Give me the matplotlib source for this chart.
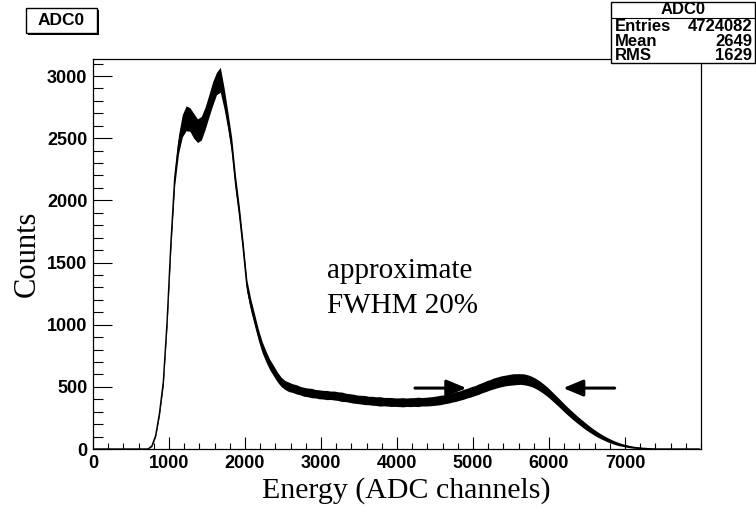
import numpy as np
import matplotlib
matplotlib.use("Agg")
import matplotlib.pyplot as plt
from matplotlib.patches import Rectangle
from matplotlib.lines import Line2D

# ------------------ histogram ADC0 (50-channel samples) ------------------ #
BIN_W = 50
counts = [
    0, 0, 0, 0, 0, 0, 0, 0, 0, 0,
    0, 0, 0, 0, 0, 25, 110, 290, 540, 1030,
    1660, 2180, 2450, 2600, 2660, 2650, 2600, 2560, 2580, 2660,
    2760, 2860, 2940, 2970, 2820, 2640, 2440, 2140, 1900, 1620,
    1310, 1160, 1040, 920, 820, 745, 680, 630, 580, 540,
    515, 500, 490, 480, 470, 460, 455, 450, 445, 440,
    437, 434, 432, 430, 425, 420, 415, 410, 405, 400,
    397, 394, 390, 388, 385, 383, 381, 380, 378, 377,
    376, 376, 376, 377, 378, 379, 380, 381, 383, 386,
    390, 395, 400, 407, 414, 422, 430, 440, 450, 460,
    470, 482, 494, 506, 517, 528, 537, 545, 551, 556,
    560, 562, 563, 560, 553, 542, 527, 508, 486, 462,
    434, 405, 376, 346, 316, 288, 261, 235, 210, 186,
    163, 142, 122, 104, 88, 73, 60, 48, 38, 30,
    23, 17, 12, 9, 6, 4, 2, 1, 0, 0,
    0, 0, 0, 0, 0, 0, 0, 0, 0, 0,
]
# half height of the statistical scatter band around each sample
scatter = [
    0, 0, 0, 0, 0, 0, 0, 0, 0, 0,
    0, 0, 0, 0, 0, 5, 10, 20, 30, 40,
    50, 60, 75, 90, 100, 95, 100, 95, 95, 90,
    90, 95, 90, 100, 85, 70, 65, 60, 55, 50,
    50, 50, 48, 46, 45, 44, 42, 42, 40, 38,
    36, 38, 35, 37, 34, 36, 35, 38, 34, 36,
    35, 37, 34, 36, 35, 38, 34, 35, 36, 34,
    35, 37, 34, 36, 35, 38, 34, 35, 36, 34,
    35, 37, 34, 36, 35, 38, 34, 35, 36, 36,
    37, 38, 36, 38, 37, 39, 38, 40, 39, 41,
    40, 42, 41, 43, 42, 44, 43, 44, 43, 44,
    45, 44, 43, 44, 43, 42, 41, 40, 39, 38,
    36, 35, 34, 33, 32, 31, 30, 29, 28, 27,
    25, 23, 22, 20, 18, 17, 15, 14, 12, 10,
    9, 8, 6, 5, 4, 3, 2, 1, 0, 0,
    0, 0, 0, 0, 0, 0, 0, 0, 0, 0,
]
x_ticks = [0, 1000, 2000, 3000, 4000, 5000, 6000, 7000]
y_ticks = [0, 500, 1000, 1500, 2000, 2500, 3000]

stats = [("Entries", "4724082"), ("Mean", "2649"), ("RMS", "1629")]
arrow_level = 490
arrow_left = (4200, 4950)
arrow_right = (6900, 6150)

W, H = 756, 517
SANS = ["Liberation Sans", "DejaVu Sans"]
SERIF = ["Liberation Serif", "DejaVu Serif"]


def fx(px):
    return px / W


def fy(py):
    return 1 - py / H


fig = plt.figure(figsize=(W / 100, H / 100), dpi=100)
ax = fig.add_axes([fx(93), fy(449), (701 - 93) / W, (449 - 59) / H])

centers = np.arange(len(counts)) * BIN_W + BIN_W / 2
c = np.array(counts, dtype=float)
s = np.array(scatter, dtype=float)
ax.fill_between(centers, c - s, c + s, color="black", lw=0)
ax.plot(centers, c, color="black", lw=1.0)

ax.set_xlim(0, 8000)
ax.set_ylim(0, 3137)

ax.set_xticks(x_ticks)
ax.set_xticklabels([str(t) for t in x_ticks], fontweight="bold", family=SANS, fontsize=13)
ax.set_xticks(np.arange(0, 8001, 200), minor=True)
ax.set_yticks(y_ticks)
ax.set_yticklabels([str(t) for t in y_ticks], fontweight="bold", family=SANS, fontsize=13)
ax.set_yticks(np.arange(0, 3137, 100), minor=True)

ax.tick_params(axis="x", which="major", direction="in", length=9, width=0.8, pad=4, top=False)
ax.tick_params(axis="x", which="minor", direction="in", length=4.5, width=0.8, top=False)
ax.tick_params(axis="y", which="major", direction="in", length=14, width=0.8, pad=4, right=False)
ax.tick_params(axis="y", which="minor", direction="in", length=7, width=0.8, right=False)
for sp in ax.spines.values():
    sp.set_linewidth(0.9)

# axis titles
fig.text(fx(406), fy(491), "Energy (ADC channels)", family=SERIF, fontsize=21.5,
         ha="center", va="center")
fig.text(fx(27), fy(254), "Counts", family=SERIF, fontsize=22, rotation=90,
         ha="center", va="center")

# annotation
ax.text(3080, 1090, "approximate\nFWHM 20%", family=SERIF, fontsize=21,
        ha="left", va="baseline", linespacing=1.45)
arrow_style = dict(arrowstyle="-|>,head_length=1.2,head_width=0.5", color="black", lw=2.2)
ax.annotate("", xy=(arrow_left[1], arrow_level), xytext=(arrow_left[0], arrow_level),
            arrowprops=arrow_style)
ax.annotate("", xy=(arrow_right[1], arrow_level), xytext=(arrow_right[0], arrow_level),
            arrowprops=arrow_style)

# title box with shadow
fig.add_artist(Rectangle((fx(28), fy(35)), fx(71), 25 / H, transform=fig.transFigure,
                         facecolor="black", edgecolor="black", lw=0))
fig.add_artist(Rectangle((fx(26), fy(33)), fx(71), 25 / H, transform=fig.transFigure,
                         facecolor="white", edgecolor="black", lw=1))
fig.text(fx(61.5), fy(20.5), "ADC0", family=SANS, fontweight="bold", fontsize=12.5,
         ha="center", va="center")

# statistics box
fig.add_artist(Rectangle((fx(611), fy(63)), fx(144), 61 / H, transform=fig.transFigure,
                         facecolor="white", edgecolor="black", lw=1))
fig.add_artist(Line2D([fx(611), fx(755)], [fy(18), fy(18)], transform=fig.transFigure,
                      color="black", lw=0.8))
fig.text(fx(683), fy(10), "ADC0", family=SANS, fontweight="bold", fontsize=12,
         ha="center", va="center")
for i, (name, val) in enumerate(stats):
    yy = fy(27 + 14 * i)
    fig.text(fx(615), yy, name, family=SANS, fontweight="bold", fontsize=12,
             ha="left", va="center")
    fig.text(fx(752), yy, val, family=SANS, fontweight="bold", fontsize=12,
             ha="right", va="center")

fig.savefig("out.png", dpi=100)
